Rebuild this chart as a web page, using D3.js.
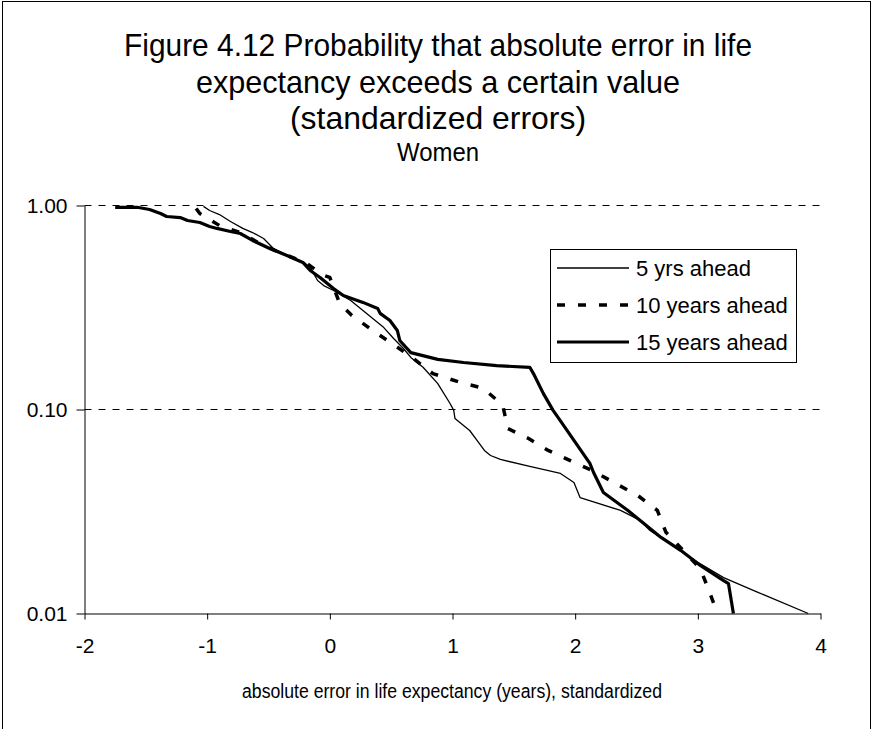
<!DOCTYPE html>
<html>
<head>
<meta charset="utf-8">
<script src="https://cdn.jsdelivr.net/npm/d3@7"></script>
<style>
  html, body { margin: 0; padding: 0; background: #fff; }
  svg text { font-family: "Liberation Sans", Arial, sans-serif; fill: #000; }
</style>
</head>
<body>
<svg id="chart" width="874" height="729"></svg>
<script>
// ---- data ----
const titleLines = ["Figure 4.12 Probability that absolute error in life",
                    "expectancy exceeds a certain value",
                    "(standardized errors)"];
const subtitle = "Women";
const xAxisTitle = "absolute error in life expectancy (years), standardized";
const seriesNames = ["5 yrs ahead", "10 years ahead", "15 years ahead"];
const xTicks = [-2, -1, 0, 1, 2, 3, 4];
const yTicks = [0.01, 0.10, 1.00];
const yTickLabels = ["0.01", "0.10", "1.00"];
const gridValues = [0.10, 1.00];

const x5 = [-1.03,-0.98,-0.90,-0.81,-0.71,-0.63,-0.54,-0.46,-0.32,-0.20,-0.16,-0.10,-0.05,0.03,0.17,0.27,0.35,0.44,0.52,0.60,0.66,0.76,0.88,0.98,1.01,1.02,1.08,1.14,1.20,1.26,1.31,1.39,1.63,1.88,1.99,2.04,2.37,2.53,2.61,3.00,3.21,3.49,3.90];
const p5 = [0.99,0.945,0.903,0.835,0.772,0.737,0.689,0.615,0.562,0.520,0.497,0.429,0.405,0.383,0.342,0.306,0.279,0.252,0.223,0.199,0.180,0.161,0.134,0.107,0.099,0.0904,0.0844,0.0789,0.0705,0.0630,0.0595,0.0569,0.0526,0.0486,0.0439,0.0370,0.0320,0.0286,0.0255,0.0178,0.0150,0.0127,0.0100];

const x10 = [-1.09,-1.06,-0.90,-0.73,-0.57,-0.41,-0.20,-0.05,0.00,0.08,0.18,0.35,0.53,0.68,0.84,1.06,1.25,1.41,1.45,1.62,1.78,1.96,2.14,2.33,2.51,2.67,2.74,2.88,3.02,3.09,3.16];
const p10 = [0.967,0.914,0.798,0.737,0.651,0.588,0.526,0.454,0.444,0.331,0.289,0.244,0.206,0.178,0.150,0.136,0.127,0.105,0.0807,0.0721,0.0630,0.0562,0.0502,0.0434,0.0379,0.0320,0.0250,0.0204,0.0166,0.0130,0.0100];

const x15 = [-1.75,-1.57,-1.47,-1.38,-1.33,-1.22,-1.16,-1.06,-0.98,-0.92,-0.81,-0.73,-0.63,-0.49,-0.35,-0.22,-0.16,-0.08,0.03,0.11,0.27,0.39,0.41,0.49,0.55,0.57,0.66,0.88,1.09,1.36,1.63,1.66,1.74,1.82,1.88,1.99,2.12,2.15,2.23,2.43,2.53,2.70,2.86,3.02,3.21,3.25,3.29];
const p15 = [0.98,0.98,0.956,0.914,0.883,0.873,0.844,0.825,0.789,0.772,0.746,0.729,0.674,0.615,0.569,0.526,0.480,0.444,0.392,0.362,0.335,0.313,0.296,0.273,0.244,0.218,0.190,0.176,0.170,0.164,0.161,0.150,0.120,0.099,0.088,0.0705,0.0544,0.0491,0.0392,0.0320,0.0286,0.0236,0.0204,0.0172,0.0145,0.0140,0.0100];

// ---- layout ----
const svg = d3.select("#chart");
const plot = { left: 84.5, right: 820.5, top: 205.5, bottom: 613.5 };

const x = d3.scaleLinear().domain([-2, 4]).range([plot.left, plot.right]);
const y = d3.scaleLog().domain([0.01, 1]).range([plot.bottom, plot.top]);

// outer border
svg.append("rect").attr("x", 2.5).attr("y", 1.5).attr("width", 868).attr("height", 760)
  .attr("fill", "none").attr("stroke", "#000").attr("stroke-width", 1);

// titles (slightly condensed lettering, as in the reference)
const titleY = [56, 93, 129];
const titleW = [628, 484, 296];
titleLines.forEach((t, i) => {
  svg.append("text").attr("x", 438).attr("y", titleY[i]).attr("text-anchor", "middle")
    .style("font-size", "32px")
    .attr("textLength", titleW[i]).attr("lengthAdjust", "spacingAndGlyphs")
    .text(t);
});
svg.append("text").attr("x", 438).attr("y", 161).attr("text-anchor", "middle")
  .style("font-size", "25px")
  .attr("textLength", 82).attr("lengthAdjust", "spacingAndGlyphs")
  .text(subtitle);

// gridlines
svg.append("g").selectAll("line").data(gridValues).join("line")
  .attr("x1", plot.left).attr("x2", plot.right)
  .attr("y1", d => y(d)).attr("y2", d => y(d))
  .attr("stroke", "#000").attr("stroke-width", 1).attr("stroke-dasharray", "7,7");

// axes
const xAxis = d3.axisBottom(x).tickValues(xTicks).tickSize(6).tickSizeOuter(0)
  .tickFormat(d => String(d));
const gx = svg.append("g").attr("transform", `translate(0,${plot.bottom})`).call(xAxis);
gx.selectAll("text").style("font-size", "21px").attr("dy", "0").attr("y", 39);

const yAxis = d3.axisLeft(y).tickValues(yTicks).tickSize(8).tickSizeOuter(0)
  .tickFormat((d, i) => yTickLabels[i]);
const gy = svg.append("g").attr("transform", `translate(${plot.left},0)`).call(yAxis);
gy.selectAll("text").style("font-size", "21px").attr("x", -17).attr("dy", "0.35em");

svg.selectAll(".domain, .tick line").attr("stroke", "#000").attr("stroke-width", 1);
svg.selectAll(".tick text").style("font-family", "'Liberation Sans', Arial, sans-serif").attr("fill", "#000");

// x axis title
svg.append("text").attr("x", 452).attr("y", 698).attr("text-anchor", "middle")
  .style("font-size", "20px")
  .attr("textLength", 420).attr("lengthAdjust", "spacingAndGlyphs")
  .text(xAxisTitle);

// series
const line = d3.line().x(d => x(d[0])).y(d => y(d[1])).curve(d3.curveLinear);
const series = [
  { name: seriesNames[0], xs: x5, ps: p5, width: 1.3, dash: null },
  { name: seriesNames[1], xs: x10, ps: p10, width: 3.5, dash: "8,13" },
  { name: seriesNames[2], xs: x15, ps: p15, width: 3.2, dash: null }
];
series.forEach(s => {
  const pts = s.xs.map((v, i) => [v, s.ps[i]]);
  svg.append("path").datum(pts).attr("d", line)
    .attr("fill", "none").attr("stroke", "#000")
    .attr("stroke-width", s.width)
    .attr("stroke-linejoin", "round")
    .attr("stroke-dasharray", s.dash);
});

// legend
const lg = svg.append("g");
lg.append("rect").attr("x", 550.5).attr("y", 249.5).attr("width", 246).attr("height", 113)
  .attr("fill", "#fff").attr("stroke", "#000").attr("stroke-width", 1);
const rowY = [268, 305, 342];
series.forEach((s, i) => {
  lg.append("line").attr("x1", 557).attr("x2", 629).attr("y1", rowY[i]).attr("y2", rowY[i])
    .attr("stroke", "#000").attr("stroke-width", s.width).attr("stroke-dasharray", s.dash);
  lg.append("text").attr("x", 636).attr("y", rowY[i]).attr("dy", "0.36em")
    .style("font-size", "22px").text(s.name);
});
</script>
</body>
</html>
